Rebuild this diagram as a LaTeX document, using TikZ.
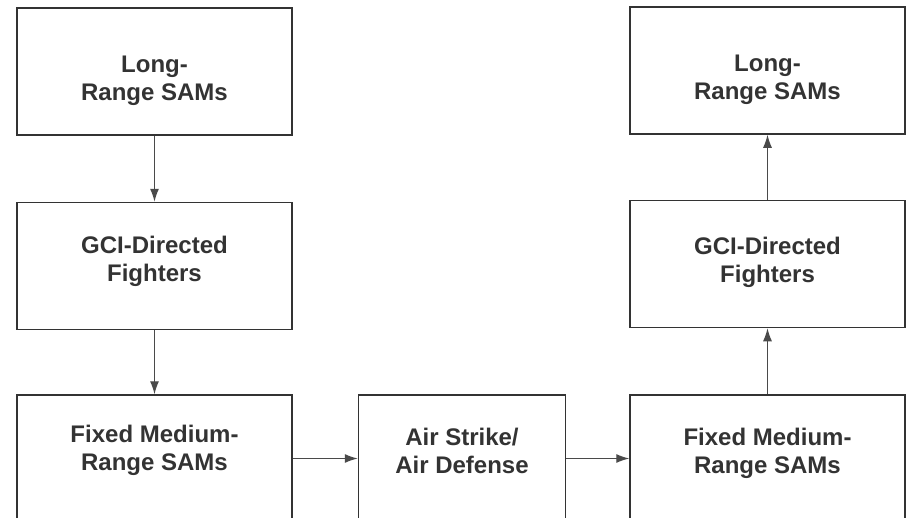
\documentclass[tikz,border=0pt]{standalone}
\usepackage{fontspec}
\setmainfont{Liberation Sans}
\usepackage{xcolor}
\usetikzlibrary{arrows.meta,positioning}

\definecolor{inkgray}{HTML}{333333}
\definecolor{linegray}{HTML}{4A4A4A}

\begin{document}
\begin{tikzpicture}[x=1pt, y=-1pt,
  samsbox/.style={rectangle, draw=inkgray, line width=1.5pt, fill=white,
    align=center, text=inkgray,
    minimum width=275pt, minimum height=127pt,
    font=\fontsize{24}{28}\selectfont\bfseries},
  textlift/.style={text height=#1, text depth=10pt},
  flow/.style={-{Latex[length=13pt,width=9pt]}, draw=linegray, line width=1.1pt}
]
\useasboundingbox (0,0) rectangle (907,517);
\clip (0,0) rectangle (907,517);
% left column, top down
\node[samsbox, textlift=67pt] (lrL) at (154.5,71.5) {Long-\\Range SAMs};
\node[samsbox, textlift=40pt, below=66pt of lrL] (gciL) {GCI-Directed\\Fighters};
\node[samsbox, textlift=33pt, below=64pt of gciL] (fmL) {Fixed Medium-\\Range SAMs};
% middle
\node[samsbox, textlift=39pt, minimum width=207pt, right=65pt of fmL] (strike) {Air Strike/\\Air Defense};
% right column, bottom up
\node[samsbox, textlift=39pt, right=63pt of strike] (fmR) {Fixed Medium-\\Range SAMs};
\node[samsbox, textlift=46pt, above=66pt of fmR] (gciR) {GCI-Directed\\Fighters};
\node[samsbox, textlift=68pt, above=65pt of gciR] (lrR) {Long-\\Range SAMs};
\draw[flow] (lrL) -- (gciL);
\draw[flow] (gciL) -- (fmL);
\draw[flow] (fmL) -- (strike);
\draw[flow] (strike) -- (fmR);
\draw[flow] (fmR) -- (gciR);
\draw[flow] (gciR) -- (lrR);
\end{tikzpicture}
\end{document}
